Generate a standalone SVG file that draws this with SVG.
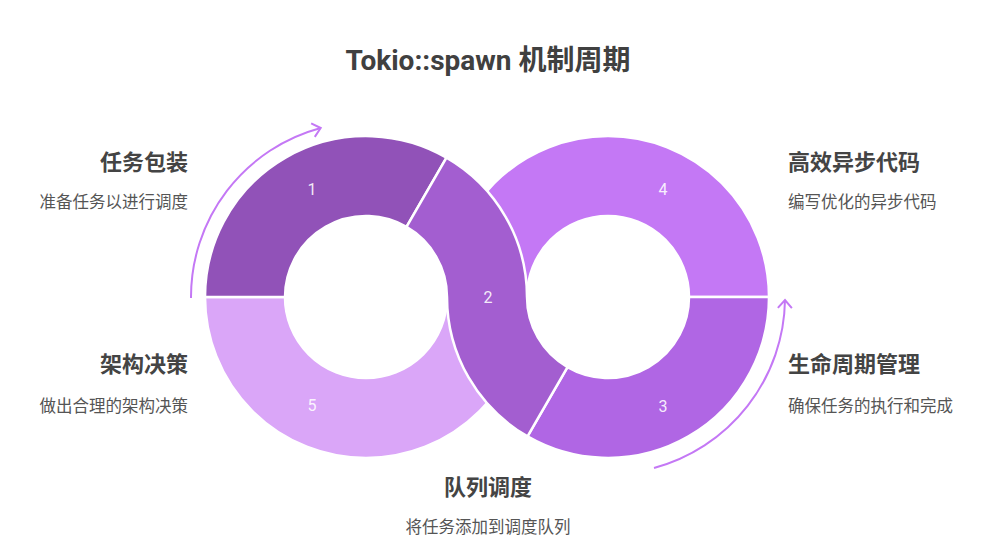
<svg xmlns="http://www.w3.org/2000/svg" width="1001" height="559" viewBox="0 0 1001 559">
<style>
.seg{stroke:#fff;stroke-width:2.5;stroke-linejoin:round}
.num{font-family:Roboto,"Liberation Sans",sans-serif;font-size:16px;fill:#fff;fill-opacity:0.9;text-anchor:middle}
.h{font-family:"Noto Sans CJK SC",sans-serif;font-weight:bold;font-size:22px;fill:#444}
.s{font-family:"Noto Sans CJK SC",sans-serif;font-size:16.5px;fill:#555}
.arc{fill:none;stroke:#C478F5;stroke-width:2}
</style>
<defs>
<marker id="ah" markerUnits="userSpaceOnUse" orient="auto" markerWidth="20" markerHeight="20" refX="0" refY="0" viewBox="-10 -10 20 20" overflow="visible">
<path d="M-8,-7 L0,0 L-8,7" fill="none" stroke="#C478F5" stroke-width="2"/>
</marker>
</defs>
<rect width="1001" height="559" fill="#fff"/>
<text x="488" y="70" text-anchor="middle" font-family="Roboto,'Noto Sans CJK SC',sans-serif" font-weight="bold" font-size="28" fill="#404040">Tokio::spawn 机制周期</text>
<g id="connectors">
<path class="arc" d="M191,298 A175,175 0 0 1 320.7,128" marker-end="url(#ah)"/>
<path class="arc" d="M654,468 A177,177 0 0 0 785,300" marker-end="url(#ah)"/>
</g>
<g id="node5">
<path class="seg" fill="#DAA6F8" d="M527,297 A161,161 0 0 1 205,297 L285,297 A81,81 0 0 0 447,297 Z"/>
</g>
<g id="node4">
<path class="seg" fill="#C478F5" d="M447,297 A161,161 0 0 1 769,297 L689,297 A81,81 0 0 0 527,297 Z"/>
</g>
<g id="node1">
<path class="seg" fill="#9152B8" d="M205,297 A161,161 0 0 1 446.5,157.6 L406.5,226.9 A81,81 0 0 0 285,297 Z"/>
</g>
<g id="node3">
<path class="seg" fill="#B066E4" d="M769,297 A161,161 0 0 1 527.5,436.4 L567.5,367.1 A81,81 0 0 0 689,297 Z"/>
</g>
<g id="node2">
<path class="seg" fill="#A35ED0" d="M446.5,157.6 A161,161 0 0 1 527,297 A81,81 0 0 0 567.5,367.1 L527.5,436.4 A161,161 0 0 1 447,297 A81,81 0 0 0 406.5,226.9 Z"/>
</g>
<g id="numbers">
<text class="num" x="312" y="195">1</text>
<text class="num" x="488" y="303">2</text>
<text class="num" x="663" y="412">3</text>
<text class="num" x="663" y="195">4</text>
<text class="num" x="312" y="411">5</text>
</g>
<g id="label1">
<text class="h" x="188" y="170" text-anchor="end">任务包装</text>
<text class="s" x="188" y="208" text-anchor="end">准备任务以进行调度</text>
</g>
<g id="label5">
<text class="h" x="188" y="372" text-anchor="end">架构决策</text>
<text class="s" x="188" y="412" text-anchor="end">做出合理的架构决策</text>
</g>
<g id="label4">
<text class="h" x="788" y="170">高效异步代码</text>
<text class="s" x="788" y="208">编写优化的异步代码</text>
</g>
<g id="label3">
<text class="h" x="788" y="372">生命周期管理</text>
<text class="s" x="788" y="412">确保任务的执行和完成</text>
</g>
<g id="label2">
<text class="h" x="488" y="495" text-anchor="middle">队列调度</text>
<text class="s" x="488" y="533" text-anchor="middle">将任务添加到调度队列</text>
</g>
</svg>
